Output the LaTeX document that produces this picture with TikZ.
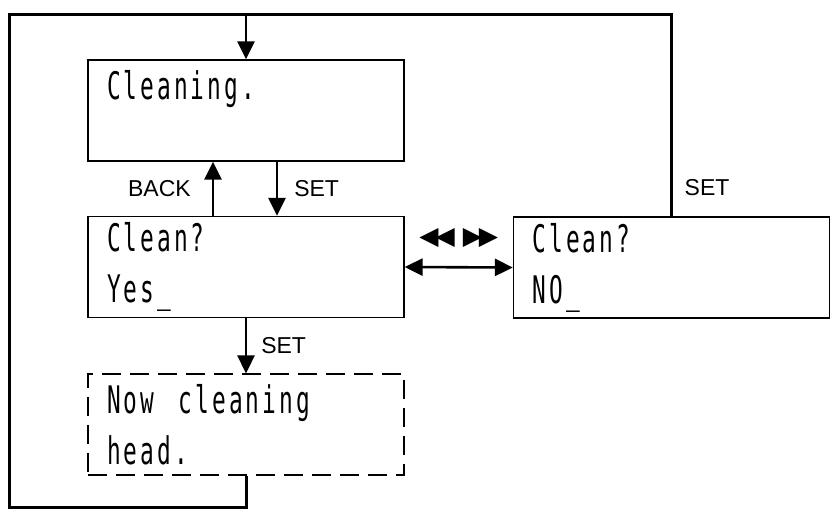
\documentclass[tikz,border=0pt]{standalone}
\usepackage{fontspec}
\usetikzlibrary{arrows.meta,calc,positioning}
\newfontfamily\lcdfont[FakeStretch=0.6,LetterSpace=8]{DejaVu Sans Mono}
\newfontfamily\keyfont{Liberation Sans}
\newfontfamily\symfont{DejaVu Sans}
\tikzset{
  lcd/.style={draw,line width=1.3pt,minimum width=316pt,minimum height=101pt,text width=278pt,
    inner xsep=19pt,inner ysep=0pt,align=left,font=\lcdfont\fontsize{38}{51}\selectfont},
  flow/.style={line width=2.6pt,-{Triangle[length=18pt,width=17pt]}},
  loopline/.style={line width=3pt},
  key/.style={font=\keyfont\fontsize{23}{25}\selectfont,inner sep=2pt}
}
\begin{document}
\begin{tikzpicture}[x=1pt,y=-1pt]
\useasboundingbox (0,0) rectangle (837,512);
% screens
\node[lcd] (cleaning) at (246,110.5) {Cleaning.\\ \mbox{}};
\node[lcd] (yes) at (246,267) {Clean?\\Yes\_};
\node[lcd] (no) at (671.5,267.5) {Clean?\\NO\_};
\node[lcd,line width=1.1pt,dash pattern=on 19pt off 9pt] (now) at (246,424.5) {Now \kern12pt cleaning\\head.};
% outer loop
\coordinate (topleft) at (9,14);
\coordinate (botleft) at (9,507);
\draw[loopline] (now.south) |- (botleft) -- (topleft) -| (no.north);
\draw[flow] (cleaning.north |- topleft) -- (cleaning.north);
\node[key,anchor=west] (setright) at ($(no.north)+(11,-29)$) {SET};
% keys
\draw[flow] ([xshift=-33pt]yes.north) -- ([xshift=-33pt]cleaning.south) node[midway,left=19pt,key] (back) {BACK};
\draw[flow] ([xshift=31pt]cleaning.south) -- ([xshift=31pt]yes.north) node[midway,right=14pt,key] (setup) {SET};
\draw[flow] (yes.south) -- (now.north) node[midway,right=12pt,key] (setdown) {SET};
\draw[line width=2.6pt,{Triangle[length=18pt,width=17pt]}-{Triangle[length=18pt,width=17pt]}] (yes.east) -- (no.west)
  node[midway,yshift=29pt,font=\symfont\fontsize{25}{27}\selectfont] (arrows) {◀\kern-3pt◀\kern8pt▶\kern-3pt▶};
\end{tikzpicture}
\end{document}
